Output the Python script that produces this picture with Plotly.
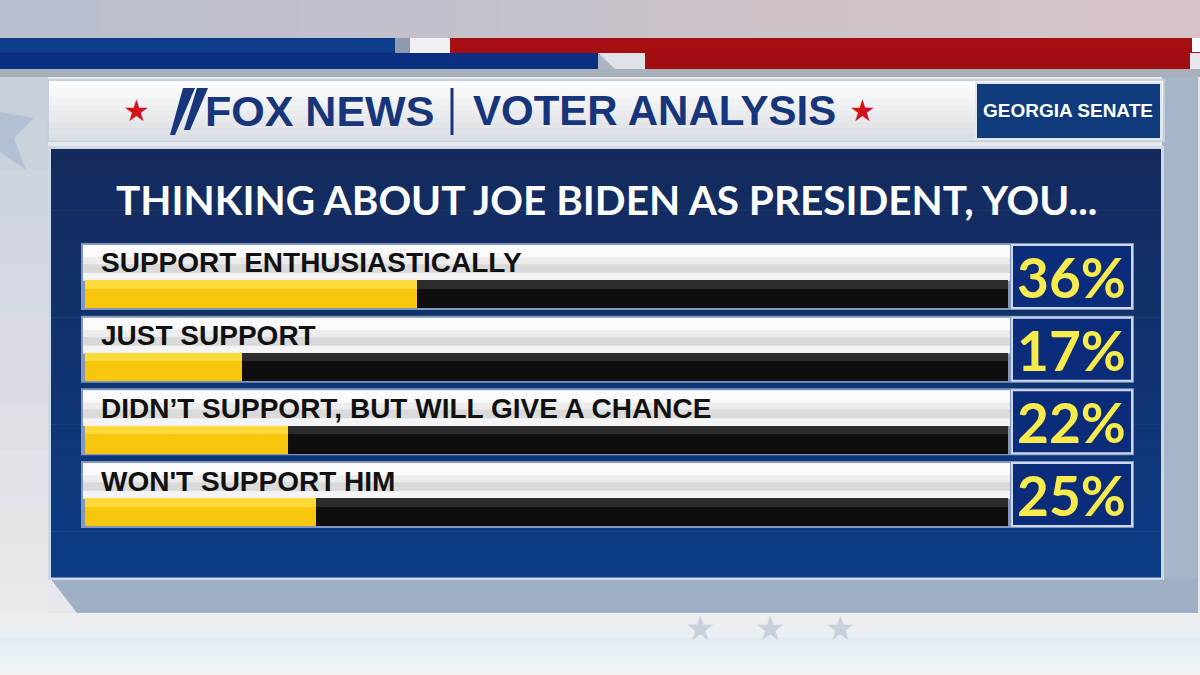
import plotly.graph_objects as go

# ---------------- data ----------------
categories = ["SUPPORT ENTHUSIASTICALLY", "JUST SUPPORT",
              "DIDN\u2019T SUPPORT, BUT WILL GIVE A CHANCE", "WON'T SUPPORT HIM"]
values = [36, 17, 22, 25]
title_text = "THINKING ABOUT JOE BIDEN AS PRESIDENT, YOU..."
brand_text = "FOX NEWS"
section_text = "VOTER ANALYSIS"
race_text = "GEORGIA SENATE"

W, H = 1200, 675
YELLOW = "#f8c60c"
PCT_YELLOW = "#f6ea4c"

def px(x):
    return x / W

def py(y):
    return 1 - y / H

shapes = []

def rect(x0, y0, x1, y1, color, line=None, layer="below"):
    d = dict(type="rect", xref="paper", yref="paper",
             x0=px(x0), x1=px(x1), y0=py(y1), y1=py(y0),
             fillcolor=color, layer=layer, line=dict(width=0))
    if line:
        d["line"] = line
    shapes.append(d)

def hexrgb(c):
    c = c.lstrip("#")
    return tuple(int(c[i:i + 2], 16) for i in (0, 2, 4))

def mix(c0, c1, t):
    a, b = hexrgb(c0), hexrgb(c1)
    return "rgb(%d,%d,%d)" % tuple(round(a[k] + (b[k] - a[k]) * t) for k in range(3))

def vgrad(x0, y0, x1, y1, c0, c1, n=16):
    h = (y1 - y0) / n
    for i in range(n):
        rect(x0, y0 + i * h, x1, y0 + (i + 1) * h + 0.6, mix(c0, c1, i / max(n - 1, 1)))

def hgrad(x0, y0, x1, y1, c0, c1, n=16):
    w = (x1 - x0) / n
    for i in range(n):
        rect(x0 + i * w, y0, x0 + (i + 1) * w + 0.6, y1, mix(c0, c1, i / max(n - 1, 1)))

def poly(pts, color, layer="below"):
    path = "M " + " L ".join("%f,%f" % (px(x), py(y)) for x, y in pts) + " Z"
    shapes.append(dict(type="path", xref="paper", yref="paper", path=path,
                       fillcolor=color, line=dict(width=0), layer=layer))

# ---------------- background ----------------
rect(0, 0, W, H, "#e7e8eb")
hgrad(0, 0, W, 38, "#b9bfcf", "#d7c3c6", 24)
# top stripes
rect(0, 38, 400, 53, "#0d3c8a")
rect(395, 38, 410, 53, "#8e9aae")
rect(410, 38, 450, 53, "#eef0f3")
rect(450, 38, 1200, 53, "#a50f12")
rect(0, 53, 600, 69, "#0a2f80")
poly([(598, 53), (645, 53), (645, 69), (615, 69)], "#dfe3e8")
poly([(598, 53), (615, 69), (598, 69)], "#aab4c2")
rect(645, 53, 1190, 69, "#a00e12")
rect(0, 69, 1200, 77, "#a8b0bb")
# left strip & right side
vgrad(0, 77, 48, 637, "#c9d0da", "#e9eaec", 12)
poly([(0, 112), (34, 118), (14, 138), (26, 170), (0, 152)], "#b3c0d3")
rect(1162, 77, 1198, 613, "#a7b5c8")
rect(1192, 38, 1200, 52, "#ffffff")
# 3D base
poly([(50, 578), (1198, 578), (1198, 613), (77, 613)], "#9fb0c6")
rect(0, 613, W, 637, "#eceeef")
vgrad(0, 637, W, H, "#e4ebf3", "#f1f3f6", 8)

# ---------------- header ----------------
rect(47, 79, 1165, 142, "#c5cfdc")
vgrad(49, 81, 1163, 140, "#fbfbfc", "#dcdfe4", 10)
rect(976, 83, 1161, 139, "#0f3a7c", line=dict(color="#dfe6f0", width=2))
shapes.append(dict(type="line", xref="paper", yref="paper",
                   x0=px(452), x1=px(452), y0=py(88), y1=py(135),
                   line=dict(color="#17357a", width=3)))
# Fox logo slashes
poly([(183, 88), (195, 88), (175, 135), (170, 135)], "#17357a")
poly([(197, 88), (208, 88), (190, 130), (184, 130)], "#17357a")

# ---------------- main panel ----------------
rect(48, 146, 1164, 580, "#cdd8e6")
vgrad(51, 149, 1161, 577, "#142a5c", "#0b3c85", 28)

# ---------------- rows geometry (category units on the y axis) ----------------
S = 72.67            # px per category
C0 = 294.0           # px center of first bar
R_TOP, R_BOT = -0.9, 3.6
y_top_px = C0 + R_TOP * S
y_bot_px = C0 + R_BOT * S
ydom = [1 - y_bot_px / H, 1 - y_top_px / H]
bar_w = 28 / S
band_top = 49 / S
band_bot = 14 / S

for i, cat in enumerate(categories):
    shapes.append(dict(type="rect", xref="paper", yref="y",
                       x0=px(81), x1=px(1134), y0=i - band_top - 2 / S, y1=i + band_bot + 2 / S,
                       fillcolor="#8397bb", line=dict(width=0), layer="below"))
    seg = [("#fbfbfb", 0.0, 0.35), ("#ececec", 0.35, 0.55), ("#dadada", 0.55, 0.8), ("#f4f4f4", 0.8, 1.0)]
    span = band_top - band_bot
    for col, a, b in seg:
        shapes.append(dict(type="rect", xref="paper", yref="y",
                           x0=px(83), x1=px(1010),
                           y0=i - band_top + a * span, y1=i - band_top + b * span + 0.01,
                           fillcolor=col, line=dict(width=0), layer="below"))
    shapes.append(dict(type="rect", xref="paper", yref="y",
                       x0=px(1012), x1=px(1132), y0=i - band_top, y1=i + band_bot,
                       fillcolor="#0b2c7a", line=dict(color="#cdd8ea", width=2), layer="below"))

fig = go.Figure()
fig.add_trace(go.Bar(y=categories, x=[100] * len(categories), orientation="h",
                     marker=dict(color="#0e0e0e", line=dict(width=0)), width=bar_w,
                     hoverinfo="skip", showlegend=False))
fig.add_trace(go.Bar(y=categories, x=[100] * len(categories), orientation="h",
                     marker=dict(color="#2c2c2c", line=dict(width=0)), width=bar_w * 0.3,
                     offset=-bar_w / 2, hoverinfo="skip", showlegend=False))
fig.add_trace(go.Bar(y=categories, x=values, orientation="h",
                     marker=dict(color=YELLOW, line=dict(width=0)), width=bar_w,
                     showlegend=False))
fig.add_trace(go.Bar(y=categories, x=values, orientation="h",
                     marker=dict(color="#ffd83a", line=dict(width=0)), width=bar_w * 0.3,
                     offset=-bar_w / 2, hoverinfo="skip", showlegend=False))

annotations = []
LABEL_FONT = "Liberation Sans, Arial, sans-serif"
for i, (cat, v) in enumerate(zip(categories, values)):
    annotations.append(dict(xref="paper", yref="y", x=px(99), y=cat, yshift=(C0 - 263),
                            text=cat, showarrow=False, xanchor="left", yanchor="middle",
                            font=dict(family=LABEL_FONT, size=28, color="#111111", weight=700)))
    annotations.append(dict(xref="paper", yref="y", x=px(1071), y=cat, yshift=(C0 - 277),
                            text=f"{v}%", showarrow=False, xanchor="center", yanchor="middle",
                            font=dict(family="Lato, Liberation Sans, sans-serif", size=55,
                                      color=PCT_YELLOW, weight=700)))

annotations.append(dict(xref="paper", yref="paper", x=px(606), y=py(199), text=title_text,
                        showarrow=False, xanchor="center", yanchor="middle",
                        font=dict(family="Lato, Liberation Sans, sans-serif", size=40.5,
                                  color="#ffffff", weight=700)))
for sx in (136, 862):
    annotations.append(dict(xref="paper", yref="paper", x=px(sx), y=py(110), text="\u2605",
                            showarrow=False, xanchor="center", yanchor="middle",
                            font=dict(family="DejaVu Sans", size=30, color="#d3121c")))
for sx in (700, 770, 840):
    annotations.append(dict(xref="paper", yref="paper", x=px(sx), y=py(628), text="\u2605",
                            showarrow=False, xanchor="center", yanchor="middle",
                            font=dict(family="DejaVu Sans", size=34, color="#c8d0db")))
annotations.append(dict(xref="paper", yref="paper", x=px(203), y=py(111), text=brand_text,
                        showarrow=False, xanchor="left", yanchor="middle",
                        font=dict(family="Liberation Sans, Arial, sans-serif", size=43,
                                  color="#17357a", weight=700)))
annotations.append(dict(xref="paper", yref="paper", x=px(471), y=py(111), text=section_text,
                        showarrow=False, xanchor="left", yanchor="middle",
                        font=dict(family=LABEL_FONT, size=42, color="#17357a", weight=700)))
annotations.append(dict(xref="paper", yref="paper", x=px(1068), y=py(111), text=race_text,
                        showarrow=False, xanchor="center", yanchor="middle",
                        font=dict(family=LABEL_FONT, size=19, color="#ffffff", weight=700)))

fig.update_layout(
    width=W, height=H, margin=dict(l=0, r=0, t=0, b=0),
    paper_bgcolor="#e7e8eb", plot_bgcolor="rgba(0,0,0,0)",
    barmode="overlay", bargap=0,
    xaxis=dict(domain=[px(85), px(1008)], range=[0, 100], visible=False, fixedrange=True),
    yaxis=dict(domain=ydom, range=[R_BOT, R_TOP], type="category", categoryorder="array",
               categoryarray=categories, visible=False, fixedrange=True),
    shapes=shapes, annotations=annotations, showlegend=False,
)

fig.write_html("out.html", config={"displayModeBar": False},
               post_script="document.body.style.margin='0';document.body.style.overflow='hidden';")
